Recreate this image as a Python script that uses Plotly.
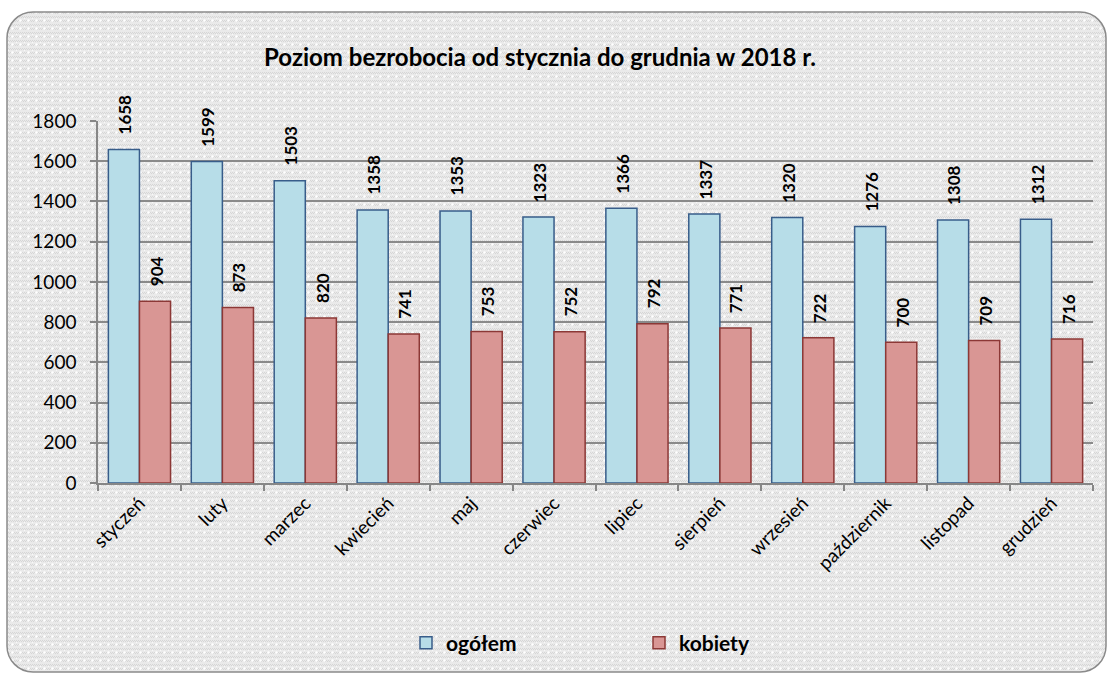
import base64
import plotly.graph_objects as go

months = ["styczeń", "luty", "marzec", "kwiecień", "maj", "czerwiec", "lipiec",
          "sierpień", "wrzesień", "październik", "listopad", "grudzień"]
ogolem = [1658, 1599, 1503, 1358, 1353, 1323, 1366, 1337, 1320, 1276, 1308, 1312]
kobiety = [904, 873, 820, 741, 753, 752, 792, 771, 722, 700, 709, 716]
title = "Poziom bezrobocia od stycznia do grudnia w 2018 r."

W, H = 1111, 677
ML, MR, MT, MB = 98, 18, 121, 194
PW, PH = W - ML - MR, H - MT - MB
BARGAP = 0.25
cat_w = PW / len(months)
shift = cat_w * (1 - BARGAP) / 4

# background frame as svg (rounded, dotted pattern)
fx0, fy0, fx1, fy1 = 7, 12, 1106, 672
svg = f'''<svg xmlns="http://www.w3.org/2000/svg" width="{W}" height="{H}" viewBox="0 0 {W} {H}">
<defs><pattern id="p" width="8" height="8" patternUnits="userSpaceOnUse">
<rect width="8" height="8" fill="#eaeaea"/>
<rect x="0" y="0" width="1" height="1" fill="#d6d6d6"/>
<rect x="2" y="0" width="1" height="1" fill="#d6d6d6"/>
<rect x="4" y="0" width="1" height="1" fill="#d6d6d6"/>
<rect x="6" y="0" width="1" height="1" fill="#d6d6d6"/>
<rect x="1" y="1" width="1" height="1" fill="#d6d6d6"/>
<rect x="3" y="1" width="1" height="1" fill="#d6d6d6"/>
<rect x="5" y="1" width="1" height="1" fill="#d6d6d6"/>
<rect x="7" y="1" width="1" height="1" fill="#d6d6d6"/>
<rect x="0" y="4" width="1" height="1" fill="#d6d6d6"/>
<rect x="2" y="4" width="1" height="1" fill="#d6d6d6"/>
<rect x="6" y="4" width="1" height="1" fill="#d6d6d6"/>
<rect x="1" y="5" width="1" height="1" fill="#d6d6d6"/>
<rect x="5" y="5" width="1" height="1" fill="#d6d6d6"/>
<rect x="7" y="5" width="1" height="1" fill="#d6d6d6"/>
<circle cx="4.5" cy="4.5" r="1.2" fill="#ffffff"/>
<circle cx="0.5" cy="2.5" r="0.7" fill="#f8f8f8"/>
</pattern></defs>
<rect x="{fx0}" y="{fy0}" width="{fx1-fx0}" height="{fy1-fy0}" rx="26" ry="26" fill="url(#p)" stroke="#8a8a8a" stroke-width="1.5"/>
</svg>'''
src = "data:image/svg+xml;base64," + base64.b64encode(svg.encode()).decode()

font = "Lato, 'Open Sans', sans-serif"

fig = go.Figure()
fig.add_trace(go.Bar(
    x=months, y=ogolem, name="ogółem",
    marker=dict(color="#b7dde8", line=dict(color="#385d8a", width=1.5)),
))
fig.add_trace(go.Bar(
    x=months, y=kobiety, name="kobiety",
    marker=dict(color="#d99694", line=dict(color="#8c3836", width=1.5)),
))

annotations = []
for series, dx in ((ogolem, -shift), (kobiety, shift)):
    for m, v in zip(months, series):
        annotations.append(dict(
            x=m, y=v, xref="x", yref="y", text=str(v), showarrow=False,
            textangle=-90, xanchor="center", yanchor="bottom",
            xshift=dx + 1, yshift=13,
            font=dict(family=font, size=17, color="#000000", weight="bold"),
        ))

fig.update_layout(
    width=W, height=H,
    margin=dict(l=ML, r=MR, t=MT, b=MB, pad=0),
    paper_bgcolor="#ffffff",
    plot_bgcolor="rgba(0,0,0,0)",
    barmode="group", bargap=BARGAP, bargroupgap=0,
    font=dict(family=font, size=18, color="#000000"),
    title=dict(text=title, x=540 / W, xanchor="center", y=1 - 58 / H, yanchor="middle",
               font=dict(family=font, size=24, color="#000000", weight="bold")),
    showlegend=True,
    legend=dict(orientation="h", x=(406 - ML) / PW, xanchor="left",
                y=-(643 - (MT + PH)) / PH, yanchor="middle",
                font=dict(family=font, size=21, color="#000000", weight="bold"),
                entrywidth=188, bgcolor="rgba(0,0,0,0)"),
    annotations=annotations,
    images=[dict(source=src, xref="paper", yref="paper",
                 x=-ML / PW, y=1 + MT / PH, sizex=W / PW, sizey=H / PH,
                 xanchor="left", yanchor="top", sizing="stretch", layer="below")],
    xaxis=dict(type="category", tickson="boundaries", ticks="outside", ticklen=6,
               tickcolor="#868686", tickwidth=1.5, showline=True, linecolor="#868686",
               linewidth=1.5, tickangle=-45,
               tickfont=dict(family=font, size=19, color="#000000"),
               showgrid=False, automargin=False),
    yaxis=dict(range=[0, 1800], dtick=200, ticks="outside", ticklen=6,
               tickcolor="#868686", tickwidth=1.5, showline=True, linecolor="#868686",
               linewidth=1.5, showgrid=True, gridcolor="#8a8a8a", gridwidth=1.5,
               ticklabelstandoff=10,
               tickfont=dict(family=font, size=19, color="#000000"), zeroline=False,
               automargin=False),
)

fig.write_html("out.html", config={"displayModeBar": False},
               post_script="document.body.style.margin='0';")
